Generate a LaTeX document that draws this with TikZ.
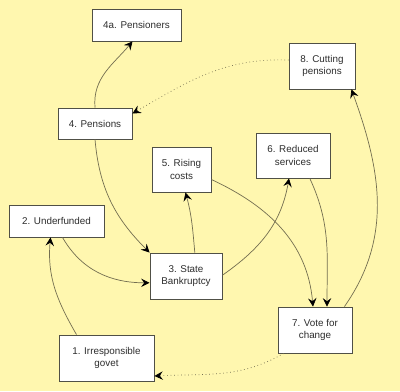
\documentclass[tikz,border=0pt]{standalone}
\usepackage{fontspec}
\setmainfont{Liberation Sans}
\usepackage{tikz}
\usetikzlibrary{shapes,arrows.meta,positioning}
\definecolor{bgyellow}{RGB}{255, 247, 175}
\definecolor{boxgray}{RGB}{80, 80, 70}
\definecolor{linkgray}{RGB}{115, 110, 80}
\definecolor{textgray}{RGB}{45, 45, 45}

\begin{document}
\begin{tikzpicture}[x=0.025cm, y=-0.025cm,
        box/.style={rectangle, draw=boxgray, line width=0.6pt, fill=white, align=center, inner sep=0pt, text=textgray, font=\fontsize{7}{9}\selectfont},
        arrow/.style={-{Stealth[length=6pt, width=6pt, inset=2.2pt, black]}, line width=0.5pt, color=linkgray},
        dotarrow/.style={arrow, dotted}
    ]
        \fill[bgyellow] (0,0) rectangle (400,391);
        \useasboundingbox (0,0) rectangle (400,391);
        \node[box, minimum width=2.225cm, minimum height=0.8cm] (pnr) at (136.5,25) {4a. Pensioners};
        \node[box, minimum width=1.85cm, minimum height=0.775cm] (pen) at (95,123.5) {4. Pensions};
        \node[box, minimum width=1.65cm, minimum height=1.15cm] (cut) at (322,66) {8. Cutting\\pensions};
        \node[box, minimum width=1.475cm, minimum height=1.125cm] (ris) at (181.5,169.5) {5. Rising\\costs};
        \node[box, minimum width=1.85cm, minimum height=1.125cm] (red) at (293,155.5) {6. Reduced\\services};
        \node[box, minimum width=2.375cm, minimum height=0.8cm] (und) at (56.5,221) {2. Underfunded};
        \node[box, minimum width=1.8cm, minimum height=1.15cm] (ban) at (186,276) {3. State\\Bankruptcy};
        \node[box, minimum width=2.375cm, minimum height=1.15cm] (irr) at (106.5,358) {1. Irresponsible\\govet};
        \node[box, minimum width=1.85cm, minimum height=1.15cm] (vot) at (315,330) {7. Vote for\\change};
        \draw[arrow] (pen.north) to[out=95, in=230] ([xshift=-0.1cm]pnr.south);
        \draw[dotarrow] ([yshift=0.15cm]cut.west) to[out=178, in=30] ([yshift=0.25cm]pen.east);
        \draw[arrow] (pen.south) to[out=-85, in=135] (ban.north west);
        \draw[arrow] ([xshift=0.22cm]ban.north) to[out=95, in=-75] ([xshift=0.1cm]ris.south);
        \draw[arrow] ([xshift=0.15cm]und.south) to[out=-60, in=180] ([yshift=-0.17cm]ban.west);
        \draw[arrow] ([xshift=-0.75cm]irr.north) to[out=120, in=-95] ([xshift=-0.15cm]und.south);
        \draw[arrow] ([yshift=0.02cm]ban.east) to[out=35, in=-100] ([xshift=-0.1cm]red.south);
        \draw[arrow] ([yshift=-0.25cm]ris.east) to[out=-25, in=95] ([xshift=-0.05cm]vot.north);
        \draw[arrow] ([xshift=0.42cm]red.south) to[out=-65, in=90] ([xshift=0.3cm]vot.north);
        \draw[arrow] ([xshift=-0.2cm]vot.north east) to[out=55, in=-70] ([xshift=-0.1cm]cut.south east);
        \draw[dotarrow] ([xshift=0.15cm]vot.south west) to[out=-150, in=3] ([yshift=-0.45cm]irr.east);
    \end{tikzpicture}
\end{document}
